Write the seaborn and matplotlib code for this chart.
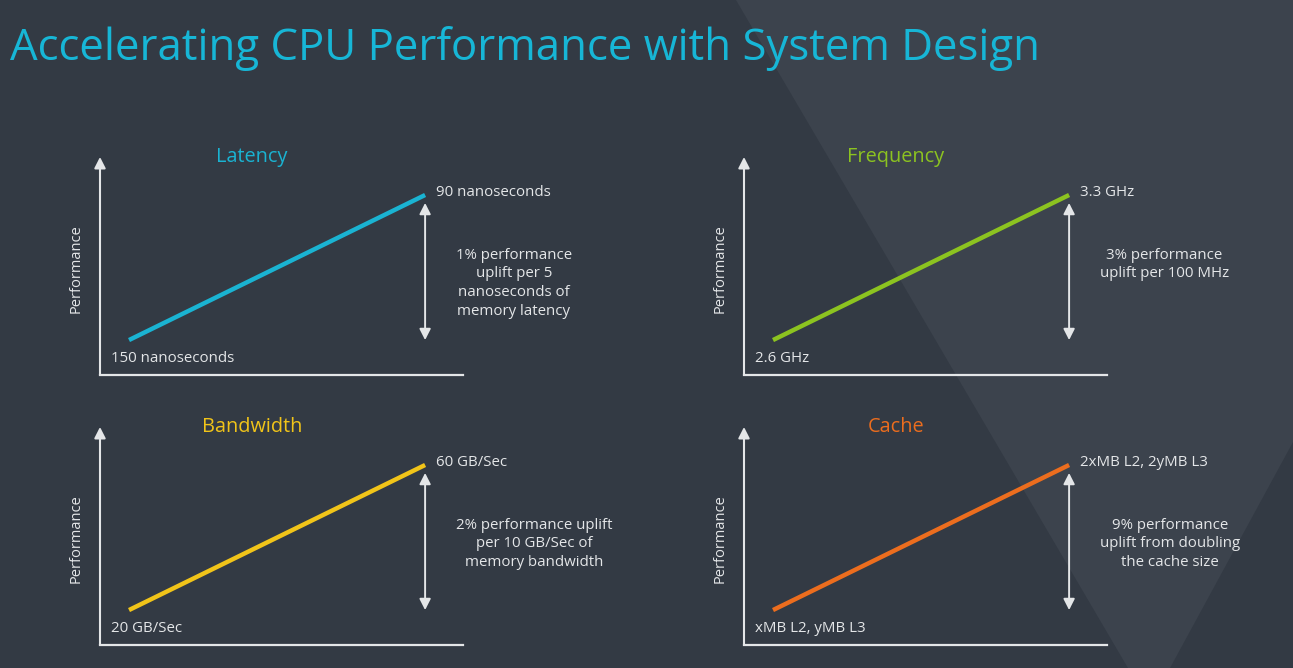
import matplotlib
matplotlib.use("Agg")
import matplotlib.pyplot as plt
import seaborn as sns
import pandas as pd
from matplotlib.patches import Polygon

# ---------------- data ----------------
panels = ["Latency", "Frequency", "Bandwidth", "Cache"]
colors = ["#1ab3d2", "#8cc320", "#f1c419", "#ec6d1e"]
start_labels = ["150 nanoseconds", "2.6 GHz", "20 GB/Sec", "xMB L2, yMB L3"]
end_labels = ["90 nanoseconds", "3.3 GHz", "60 GB/Sec", "2xMB L2, 2yMB L3"]
notes = [
    "1% performance\nuplift per 5\nnanoseconds of\nmemory latency",
    "3% performance\nuplift per 100 MHz",
    "2% performance uplift\nper 10 GB/Sec of\nmemory bandwidth",
    "9% performance\nuplift from doubling\nthe cache size",
]
setting = [0, 1]        # low setting -> high setting
performance = [0, 1]    # relative performance
y_label = "Performance"
title = "Accelerating CPU Performance with System Design"

# ---------------- style ----------------
W, H = 1293, 668
BG = "#333a44"
LIGHT = "#3c434d"
FG = "#e4e6e8"
TITLE_C = "#17b6d6"

sns.set_theme(style="white")
plt.rcParams["font.family"] = ["Open Sans", "DejaVu Sans"]

fig = plt.figure(figsize=(W / 100, H / 100), dpi=100)
fig.patch.set_facecolor(BG)


def fx(x):
    return x / W


def fy(y):
    return 1 - y / H


# lighter diagonal background band (drawn behind everything)
band = Polygon([(fx(736), fy(0)), (fx(W), fy(0)), (fx(W), fy(442)),
                (fx(1170), fy(H)), (fx(1128), fy(H))],
               closed=True, transform=fig.transFigure, facecolor=LIGHT,
               edgecolor="none", zorder=-10)
fig.patches.append(band)

fig.text(fx(10), fy(60), title, color=TITLE_C, fontsize=31.5,
         ha="left", va="baseline", zorder=5)

boxes = [(100, 157), (744, 157), (100, 427), (744, 427)]  # left, top (px)
AX_W, AX_H = 363, 218

for i, name in enumerate(panels):
    left, top = boxes[i]
    ax = fig.add_axes([fx(left), fy(top + AX_H), AX_W / W, AX_H / H])
    ax.set_zorder(2)
    ax.patch.set_alpha(0)
    df = pd.DataFrame({"setting": setting, "performance": performance})
    sns.lineplot(data=df, x="setting", y="performance", ax=ax,
                 color=colors[i], lw=3.2, solid_capstyle="butt")
    ax.set_xlim(-0.098, 1.128)
    ax.set_ylim(-0.241, 1.262)
    ax.set_xticks([])
    ax.set_yticks([])
    ax.set_xlabel("")
    ax.set_ylabel("")
    for s in ["top", "right", "left"]:
        ax.spines[s].set_visible(False)
    ax.spines["bottom"].set_color(FG)
    ax.spines["bottom"].set_linewidth(1.6)

    # y axis with arrow head
    ax.annotate("", xy=(0, 1), xytext=(0, 0), xycoords="axes fraction",
                textcoords="axes fraction",
                arrowprops=dict(arrowstyle="-|>,head_length=0.55,head_width=0.28",
                                color=FG, lw=1.5, shrinkA=0, shrinkB=0))
    # double arrow showing the uplift
    ax.annotate("", xy=(setting[1], performance[1] - 0.055),
                xytext=(setting[1], performance[0]),
                arrowprops=dict(arrowstyle="<|-|>,head_length=0.55,head_width=0.28",
                                color=FG, lw=1.4, shrinkA=0, shrinkB=0))

    # panel title
    ax.text(0.419, 1.0, name, transform=ax.transAxes, color=colors[i],
            fontsize=14.3, ha="center", va="center")
    # y label
    ax.annotate(y_label, xy=(0, 0.49), xycoords="axes fraction",
                xytext=(-17.5, 0), textcoords="offset points", rotation=90,
                color=FG, fontsize=10.5, ha="center", va="center")
    # end labels
    ax.annotate(end_labels[i], xy=(setting[1], performance[1]),
                xytext=(8, 1.5), textcoords="offset points",
                color=FG, fontsize=10.8, ha="left", va="center")
    ax.annotate(start_labels[i], xy=(setting[0], performance[0]),
                xytext=(-13, -13.5), textcoords="offset points",
                color=FG, fontsize=10.8, ha="left", va="center")
    # note
    ax.annotate(notes[i], xy=(setting[1], performance[0]),
                xytext=(22, 66.5), textcoords="offset points",
                color=FG, fontsize=10.8, ha="left", va="top",
                multialignment="center", linespacing=1.34)

fig.savefig("out.png", dpi=100, facecolor=BG)
